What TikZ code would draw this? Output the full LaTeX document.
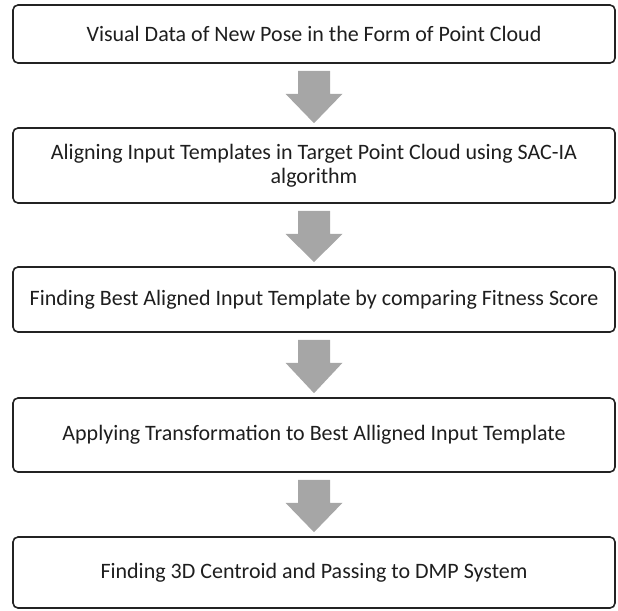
\documentclass[tikz,border=0pt]{standalone}
\usepackage{fontspec}
\setmainfont{Carlito}
\usepackage{xcolor}
\usepackage{tikz}
\usetikzlibrary{calc}

\definecolor{framegray}{RGB}{35,35,35}
\definecolor{arrowgray}{RGB}{166,166,166}
\definecolor{textgray}{RGB}{30,30,30}

\begin{document}
\begin{tikzpicture}[
      x=1pt, y=-1pt,
      stepbox/.style={draw=framegray, line width=1.6pt, rounded corners=5pt,
        minimum width=602pt, inner sep=0pt, align=center, text=textgray,
        font=\fontsize{22}{24}\selectfont},
      blockarrow/.style={fill=arrowgray}
    ]
    \useasboundingbox (0,0) rectangle (618,610);

    \node[stepbox, minimum height=58pt] (b1) at (314,34)
      {Visual Data of New Pose in the Form of Point Cloud};
    \node[stepbox, minimum height=75pt] (b2) at (314,165.5)
      {Aligning Input Templates in Target Point Cloud using SAC-IA\\algorithm};
    \node[stepbox, minimum height=65pt] (b3) at (314,299.5)
      {Finding Best Aligned Input Template by comparing Fitness Score};
    \node[stepbox, minimum height=74pt] (b4) at (314,435)
      {Applying Transformation to Best Alligned Input Template};
    \node[stepbox, minimum height=71pt] (b5) at (314,572.5)
      {Finding 3D Centroid and Passing to DMP System};

    % grey block arrows between the steps
    \foreach \a/\b in {b1/b2, b2/b3, b3/b4, b4/b5} {
      \fill[blockarrow] ($(\a.south)+(-16,7)$) -- ++(32,0) -- ++(0,23)
        -- ++(12.5,0) -- ($(\b.north)+(0,-4)$) -- ($(\a.south)+(-28.5,30)$)
        -- ++(12.5,0) -- cycle;
    }
  \end{tikzpicture}
\end{document}
